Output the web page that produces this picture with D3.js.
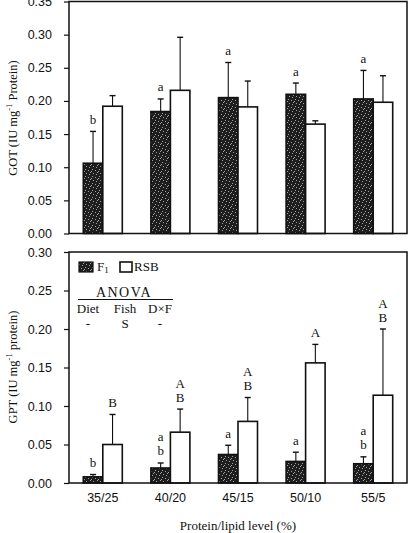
<!DOCTYPE html>
<html><head><meta charset="utf-8">
<script src="https://cdn.jsdelivr.net/npm/d3@7"></script>
<style>body{margin:0;background:#fff}svg{display:block}</style>
</head><body>
<script>
const categories = ["35/25","40/20","45/15","50/10","55/5"];
const series = ["F1","RSB"];
// GOT (top panel)
const gotF1 = [0.106,0.184,0.205,0.210,0.203];
const gotF1Err = [0.048,0.019,0.053,0.017,0.043];
const gotRSB = [0.192,0.216,0.191,0.165,0.198];
const gotRSBErr = [0.016,0.080,0.039,0.005,0.040];
const gotF1Letters = ["b","a","a","a","a"];
const gotRSBLetters = ["","","","",""];
const gotTicks = [0,0.05,0.10,0.15,0.20,0.25,0.30,0.35];
// GPT (bottom panel)
const gptF1 = [0.008,0.0195,0.037,0.028,0.025];
const gptF1Err = [0.003,0.0065,0.012,0.012,0.009];
const gptRSB = [0.050,0.066,0.080,0.156,0.114];
const gptRSBErr = [0.039,0.030,0.031,0.024,0.086];
const gptF1Letters = ["b","ab","a","a","ab"];
const gptRSBLetters = ["B","AB","AB","A","AB"];
const gptTicks = [0,0.05,0.10,0.15,0.20,0.25,0.30];
const anovaHeads = ["Diet","Fish","D\u00d7F"];
const anovaVals = ["-","S","-"];

const W=410,H=533;
const svg=d3.select("body").append("svg").attr("width",W).attr("height",H);
const defs=svg.append("defs");
const pat=defs.append("pattern").attr("id","speck").attr("patternUnits","userSpaceOnUse").attr("width",7).attr("height",7);
pat.append("rect").attr("width",7).attr("height",7).attr("fill","#1e1e1e");
[[1,1],[4,2],[2,5],[6,4],[5,6],[0,3]].forEach(p=>pat.append("rect").attr("x",p[0]).attr("y",p[1]).attr("width",1).attr("height",1).attr("fill","#a0a0a0"));

const left=69,right=407;
const x0=d3.scaleBand().domain(categories).range([left,right]).padding(0);
const barW=19.5;
const x1=d3.scaleBand().domain(series).range([-barW,barW]);

const serif="'Liberation Serif','Times New Roman',serif";
const sans="'Liberation Sans',Arial,sans-serif";

function panel(top,bottom,maxV,ticks,f1,f1e,rsb,rsbe,l1,l2,title,titleY){
  const y=d3.scaleLinear().domain([0,maxV]).range([bottom,top]);
  const g=svg.append("g");
  const data=[];
  categories.forEach((c,i)=>{
    data.push({c,s:"F1",v:f1[i],e:f1e[i],l:l1[i]});
    data.push({c,s:"RSB",v:rsb[i],e:rsbe[i],l:l2[i]});
  });
  const cx=d=>x0(d.c)+x0.bandwidth()/2+x1(d.s)+x1.bandwidth()/2;
  g.selectAll(".eb").data(data).join("line").attr("x1",cx).attr("x2",cx)
    .attr("y1",d=>y(d.v)).attr("y2",d=>y(d.v+d.e)).attr("stroke","#111").attr("stroke-width",1.1);
  g.selectAll(".cap").data(data).join("line").attr("x1",d=>cx(d)-3).attr("x2",d=>cx(d)+3)
    .attr("y1",d=>y(d.v+d.e)).attr("y2",d=>y(d.v+d.e)).attr("stroke","#111").attr("stroke-width",1.4);
  g.selectAll(".bar").data(data).join("rect")
    .attr("x",d=>x0(d.c)+x0.bandwidth()/2+x1(d.s)).attr("width",x1.bandwidth())
    .attr("y",d=>y(d.v)).attr("height",d=>y(0)-y(d.v))
    .attr("fill",d=>d.s==="F1"?"url(#speck)":"#fff").attr("stroke","#111").attr("stroke-width",1.6);
  data.forEach(d=>{
    const chars=d.l.split("");
    chars.forEach((ch,k)=>{
      g.append("text").attr("x",cx(d)).attr("y",y(d.v+d.e)-12-(chars.length-1-k)*14)
        .attr("text-anchor","middle").attr("dominant-baseline","central")
        .attr("font-family",serif).attr("font-size",13).attr("fill","#111").text(ch);
    });
  });
  g.append("rect").attr("x",left).attr("y",top).attr("width",right-left).attr("height",bottom-top)
    .attr("fill","none").attr("stroke","#111").attr("stroke-width",1.5);
  const ax=d3.axisLeft(y).tickValues(ticks).tickFormat(d3.format(".2f")).tickSize(5).tickPadding(12);
  const ag=g.append("g").attr("transform",`translate(${left},0)`).call(ax);
  ag.select(".domain").remove();
  ag.selectAll("line").attr("stroke","#111").attr("stroke-width",1.2);
  ag.selectAll("text").attr("font-family",sans).attr("font-size",12.5).attr("fill","#111");
  g.append("text").attr("transform",`translate(13,${titleY}) rotate(-90)`).attr("text-anchor","middle")
    .attr("dominant-baseline","central").attr("font-family",serif).attr("font-size",12.5).attr("fill","#111")
    .call(t=>{t.append("tspan").text(title[0]);t.append("tspan").attr("dy",-4).attr("font-size",8.5).text("-1");t.append("tspan").attr("dy",4).text(title[1]);});
  return y;
}

panel(1.5,233.5,0.35,gotTicks,gotF1,gotF1Err,gotRSB,gotRSBErr,gotF1Letters,gotRSBLetters,["GOT (IU mg"," Protein)"],118);
panel(252,483,0.30,gptTicks,gptF1,gptF1Err,gptRSB,gptRSBErr,gptF1Letters,gptRSBLetters,["GPT (IU mg"," protein)"],367);

svg.append("g").selectAll("text").data(categories).join("text")
  .attr("x",d=>x0(d)+x0.bandwidth()/2).attr("y",498).attr("text-anchor","middle").attr("dominant-baseline","central")
  .attr("font-family",sans).attr("font-size",12.5).attr("fill","#111").text(d=>d);
svg.append("text").attr("x",238).attr("y",525).attr("text-anchor","middle").attr("dominant-baseline","central")
  .attr("font-family",serif).attr("font-size",13).attr("fill","#111").text("Protein/lipid level (%)");

const lg=svg.append("g");
lg.append("rect").attr("x",79).attr("y",262).attr("width",14).attr("height",10).attr("fill","url(#speck)").attr("stroke","#111").attr("stroke-width",1.2);
lg.append("text").attr("x",97).attr("y",271).attr("font-family",serif).attr("font-size",13).attr("fill","#111")
  .call(t=>{t.append("tspan").text("F");t.append("tspan").attr("dy",2).attr("font-size",9).text("1");});
lg.append("rect").attr("x",120).attr("y",262).attr("width",12).attr("height",10).attr("fill","#fff").attr("stroke","#111").attr("stroke-width",1.6);
lg.append("text").attr("x",134).attr("y",271).attr("font-family",serif).attr("font-size",13).attr("fill","#111").text("RSB");
lg.append("text").attr("x",124).attr("y",297).attr("text-anchor","middle").attr("font-family",serif).attr("font-size",14).attr("letter-spacing",1.5).attr("fill","#111").text("ANOVA");
lg.append("line").attr("x1",78).attr("x2",173).attr("y1",299.5).attr("y2",299.5).attr("stroke","#111").attr("stroke-width",1);
const ax3=[88,125,160];
anovaHeads.forEach((h,i)=>lg.append("text").attr("x",ax3[i]).attr("y",313).attr("text-anchor","middle").attr("font-family",serif).attr("font-size",13).attr("fill","#111").text(h));
anovaVals.forEach((h,i)=>lg.append("text").attr("x",ax3[i]).attr("y",328).attr("text-anchor","middle").attr("font-family",serif).attr("font-size",13).attr("fill","#111").text(h));
</script>
</body></html>
